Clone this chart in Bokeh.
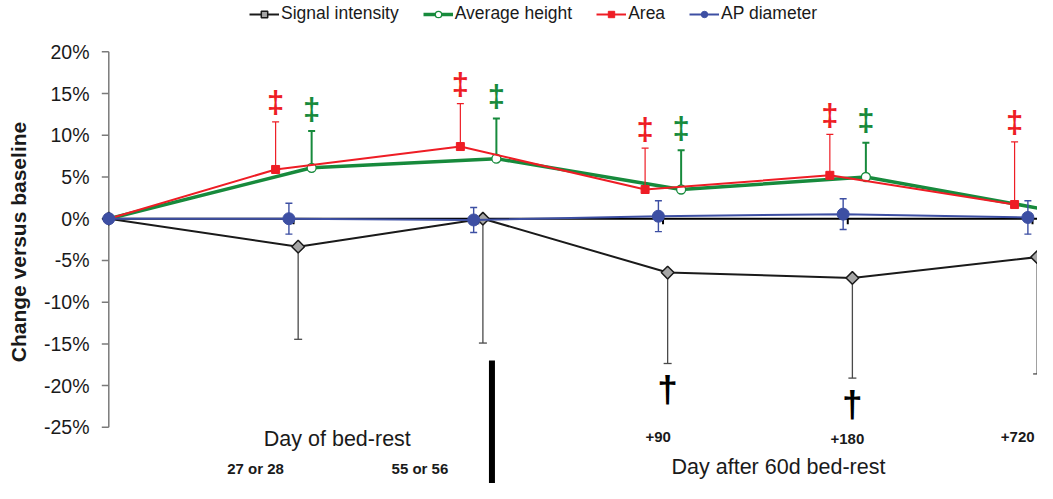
import math
from bokeh.plotting import figure
from bokeh.models import Range1d, FixedTicker, PrintfTickFormatter, Legend, LegendItem
from bokeh.core.properties import value
from bokeh.embed import file_html
from bokeh.resources import INLINE

# ---------------- data (percent change versus baseline) ----------------
categories = ["Baseline", "27 or 28", "55 or 56", "+90", "+180", "+720"]
cat_index = [0, 1, 2, 3, 4, 5]

signal_intensity = [0.0, -3.35, 0.0, -6.45, -7.1, -4.6]
signal_err = [0.0, 11.1, 14.9, 10.9, 12.0, 14.0]
signal_sig = [False, False, False, True, True, False]

average_height = [0.0, 6.1, 7.2, 3.5, 5.0, 1.0]
average_height_err = [0.0, 4.4, 4.8, 4.7, 4.1, 4.5]
average_height_sig = [False, True, True, True, True, False]

area = [0.0, 5.9, 8.65, 3.5, 5.2, 1.7]
area_err = [0.0, 5.7, 5.15, 4.95, 4.9, 7.5]
area_sig = [False, True, True, True, True, True]

ap_diameter = [0.0, 0.0, -0.15, 0.3, 0.55, 0.15]
ap_diameter_err = [0.0, 1.85, 1.5, 1.85, 1.85, 2.0]

y_ticks = [-25, -20, -15, -10, -5, 0, 5, 10, 15, 20]

# ---------------- styling ----------------
FONT = value("Liberation Sans")
BLACK = "#1a1a1a"
GREEN = "#178a3c"
RED = "#ee1d25"
BLUE = "#3d4fa3"
AXIS_GREY = "#7a7a7a"

p = figure(width=1037, height=483, output_backend="svg", toolbar_location=None,
           x_range=Range1d(-0.0503, 5.027), y_range=Range1d(-31.73, 26.15),
           x_axis_location=None, min_border_left=99, min_border_right=0,
           min_border_top=0, min_border_bottom=0)
p.outline_line_color = None
p.grid.visible = False
p.background_fill_color = "white"

ax = p.yaxis[0]
ax.ticker = FixedTicker(ticks=y_ticks)
ax.formatter = PrintfTickFormatter(format="%d%%")
ax.axis_line_color = None
ax.major_tick_line_color = None
ax.minor_tick_line_color = None
ax.major_tick_out = 0
ax.major_tick_in = 0
ax.minor_tick_out = 0
ax.minor_tick_in = 0
ax.major_label_standoff = 10
ax.major_label_text_font = "Liberation Sans"
ax.major_label_text_font_size = "19.5px"
ax.major_label_text_color = BLACK
ax.axis_label = "Change versus baseline"
ax.axis_label_text_font = "Liberation Sans"
ax.axis_label_text_font_size = "21px"
ax.axis_label_text_font_style = "bold"
ax.axis_label_text_color = BLACK
ax.axis_label_standoff = 11

# value axis line and tick marks drawn at the first category
tick_len = 7 / 184.75
p.segment(x0=[cat_index[0]], y0=[min(y_ticks)], x1=[cat_index[0]], y1=[max(y_ticks)],
          line_color=AXIS_GREY, line_width=1.5)
p.segment(x0=[cat_index[0] - tick_len] * len(y_ticks), y0=y_ticks,
          x1=[cat_index[0]] * len(y_ticks), y1=y_ticks,
          line_color=AXIS_GREY, line_width=1.5)


def xpos(offset):
    return [c + (offset if c > 0 else 0) for c in cat_index]


# category (zero) axis line and ticks
p.segment(x0=[cat_index[0]], y0=[0], x1=[cat_index[-1] + 0.5], y1=[0],
          line_color="black", line_width=2)
p.segment(x0=cat_index[1:], y0=[0] * 5, x1=cat_index[1:], y1=[-0.65] * 5,
          line_color="black", line_width=2)

# ---- Signal intensity (error bars downward)
xs_sig = xpos(0.025)
lo = [v - e for v, e in zip(signal_intensity, signal_err)]
p.segment(x0=xs_sig[1:], y0=signal_intensity[1:], x1=xs_sig[1:], y1=lo[1:],
          line_color="#4a4a4a", line_width=1.3)
p.scatter(xs_sig[1:], lo[1:], marker="dash", size=8, line_color="#4a4a4a", line_width=1.3)
l_sig = p.line(xs_sig, signal_intensity, line_color=BLACK, line_width=2)
m_sig = p.scatter(xs_sig, signal_intensity, marker="square", angle=math.pi / 4, size=9,
                  fill_color="#a6a6a6", line_color=BLACK, line_width=1.5)
dx = [x for x, s in zip(xs_sig, signal_sig) if s]
dy = [y for y, s in zip(lo, signal_sig) if s]
p.text(dx, dy, text=["\u2020"] * len(dx), y_offset=26, text_align="center",
       text_baseline="middle", text_font=FONT, text_font_size="37px",
       text_font_style="bold", text_color="black")

# ---- Average height (error bars upward)
xs_h = xpos(0.098)
hi = [v + e for v, e in zip(average_height, average_height_err)]
p.segment(x0=xs_h[1:], y0=average_height[1:], x1=xs_h[1:], y1=hi[1:],
          line_color=GREEN, line_width=2)
p.scatter(xs_h[1:], hi[1:], marker="dash", size=7, line_color=GREEN, line_width=2)
l_h = p.line(xs_h, average_height, line_color=GREEN, line_width=3.5)
m_h = p.scatter(xs_h, average_height, marker="circle", size=9, fill_color="white",
                line_color=GREEN, line_width=1.3)
gx = [x for x, s in zip(xs_h, average_height_sig) if s]
gy = [y for y, s in zip(hi, average_height_sig) if s]
p.text(gx, gy, text=["\u2021"] * len(gx), y_offset=-22, text_align="center",
       text_baseline="middle", text_font=FONT, text_font_size="31px",
       text_font_style="bold", text_color=GREEN)

# ---- Area (error bars upward)
xs_a = xpos(-0.097)
hi_a = [v + e for v, e in zip(area, area_err)]
p.segment(x0=xs_a[1:], y0=area[1:], x1=xs_a[1:], y1=hi_a[1:],
          line_color=RED, line_width=1.2)
p.scatter(xs_a[1:], hi_a[1:], marker="dash", size=7, line_color=RED, line_width=1.2)
l_a = p.line(xs_a, area, line_color=RED, line_width=2)
m_a = p.scatter(xs_a, area, marker="square", size=8, fill_color=RED, line_color=RED)
rx = [x for x, s in zip(xs_a, area_sig) if s]
ry = [y for y, s in zip(hi_a, area_sig) if s]
p.text(rx, ry, text=["\u2021"] * len(rx), y_offset=-19, text_align="center",
       text_baseline="middle", text_font=FONT, text_font_size="31px",
       text_font_style="bold", text_color=RED)

# ---- AP diameter (error bars both ways)
xs_ap = xpos(-0.025)
ap_lo = [v - e for v, e in zip(ap_diameter, ap_diameter_err)]
ap_hi = [v + e for v, e in zip(ap_diameter, ap_diameter_err)]
p.segment(x0=xs_ap[1:], y0=ap_lo[1:], x1=xs_ap[1:], y1=ap_hi[1:],
          line_color=BLUE, line_width=1.4)
p.scatter(xs_ap[1:] * 2, ap_lo[1:] + ap_hi[1:], marker="dash", size=7,
          line_color=BLUE, line_width=1.4)
l_ap = p.line(xs_ap, ap_diameter, line_color=BLUE, line_width=2)
m_ap = p.scatter(xs_ap, ap_diameter, marker="circle", size=12, fill_color=BLUE,
                 line_color=BLUE)

# ---- category labels (placed as in the original)
lab_x = [0.794, 1.684, 2.974, 3.998, 4.92]
lab_y = [-29.9, -29.9, -26.2, -26.4, -26.2]
p.text(lab_x, lab_y, text=categories[1:], text_align="center", text_baseline="middle",
       text_font=FONT, text_font_size="15px", text_font_style="bold", text_color=BLACK)
p.text([1.237, 3.625], [-26.4, -29.8], text=["Day of bed-rest", "Day after 60d bed-rest"],
       text_align="center", text_baseline="middle", text_font=FONT,
       text_font_size="21.5px", text_color=BLACK)
# separator between bed-rest and recovery
p.segment(x0=[2.074], y0=[-17.0], x1=[2.074], y1=[-40], line_color="black", line_width=6)

legend = Legend(items=[
    LegendItem(label="Signal intensity", renderers=[l_sig, m_sig]),
    LegendItem(label="Average height", renderers=[l_h, m_h]),
    LegendItem(label="Area", renderers=[l_a, m_a]),
    LegendItem(label="AP diameter", renderers=[l_ap, m_ap]),
], orientation="horizontal", location=(150, 459), padding=0, margin=0, spacing=24,
    label_standoff=2, glyph_width=30, glyph_height=16, label_height=16,
    label_text_font="Liberation Sans", label_text_font_size="17.5px",
    label_text_color=BLACK, border_line_color=None, background_fill_alpha=0)
p.add_layout(legend)

open("out.html", "w").write(file_html(p, INLINE))
